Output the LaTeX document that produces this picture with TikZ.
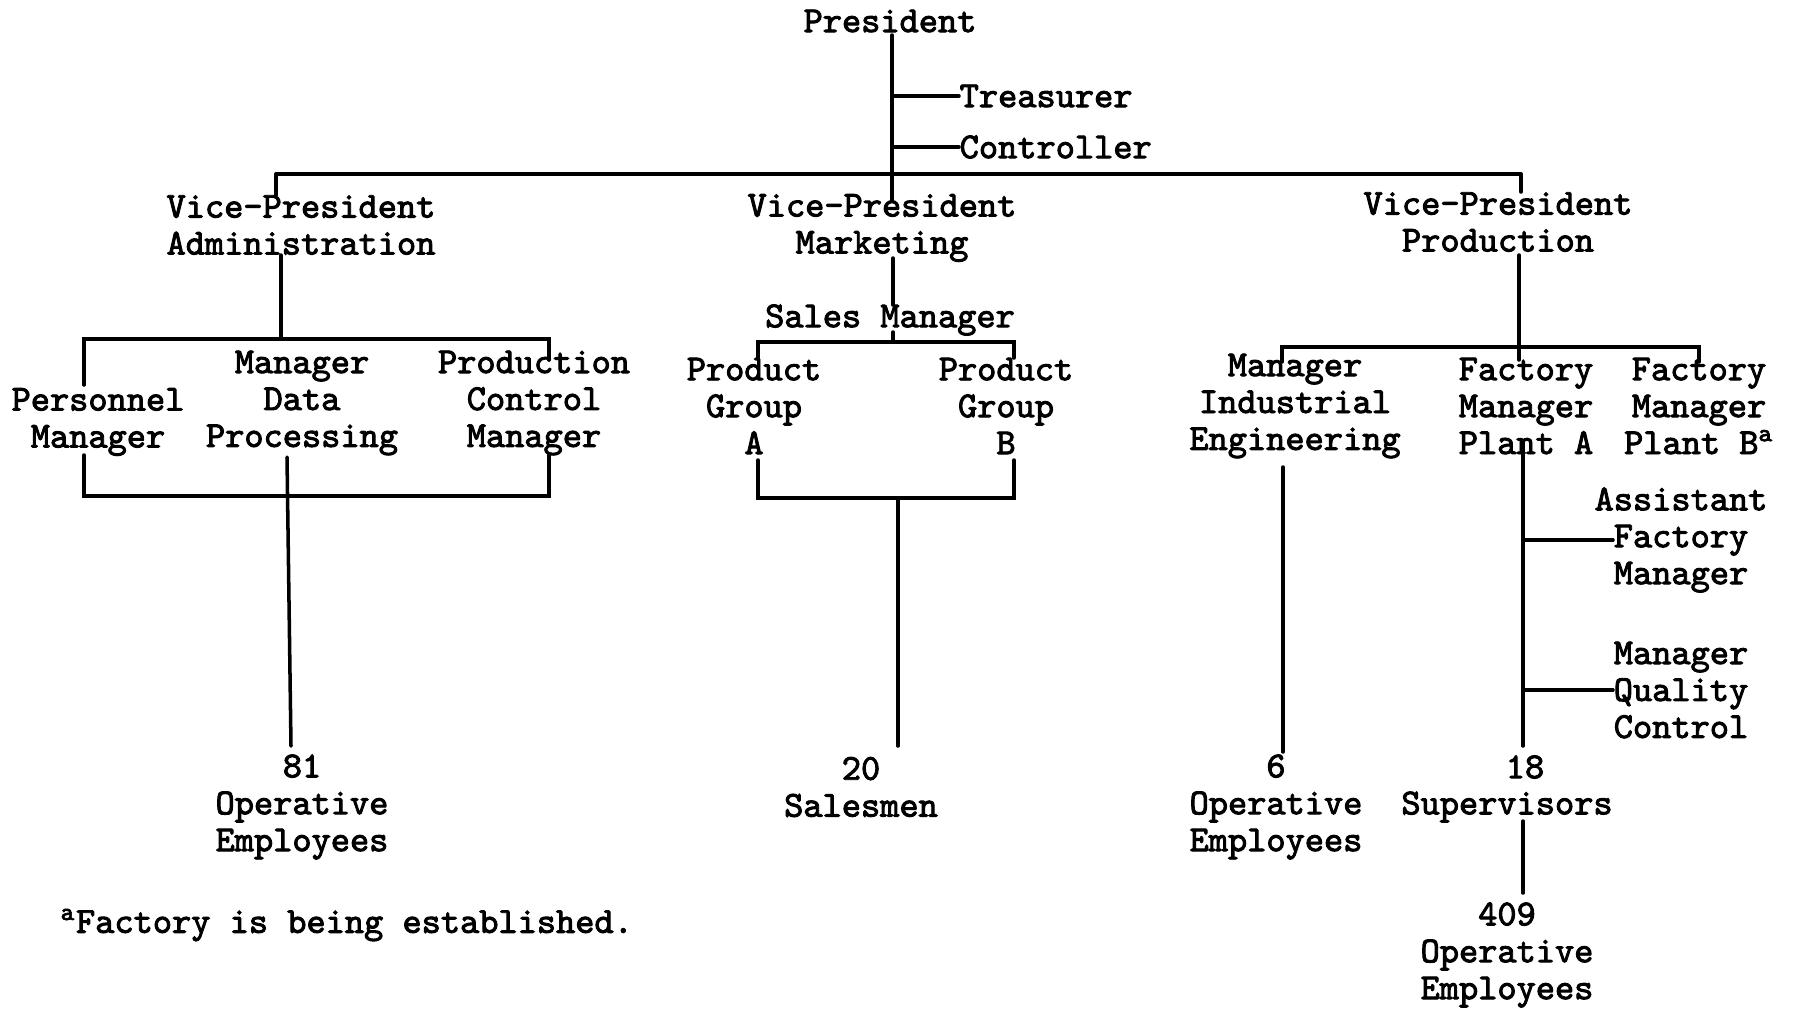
\documentclass[tikz,border=0pt]{standalone}
\usepackage{fontspec}
\newfontfamily\twfont{Latin Modern Mono}[FakeBold=2.5]
\usetikzlibrary{calc}
\begin{document}
\begin{tikzpicture}[x=0.01cm,y=-0.01cm,
  lbl/.style={font=\fontsize{10.4}{10.5}\selectfont\twfont, align=center, inner sep=0pt},
  ln/.style={line width=1pt, line cap=round, line join=miter}]
\useasboundingbox (0,0) rectangle (1800,1008);
% nodes
\node[lbl] (pres) at (890,21) {President};
\node[lbl,anchor=west] (treas) at (959,96) {Treasurer};
\node[lbl,anchor=west] (ctrl) at (959,147) {Controller};
\node[lbl] (vpa) at (301,225) {Vice-President\\Administration};
\node[lbl] (vpm) at (882,228) {Vice-President\\Marketing};
\node[lbl] (vpp) at (1498,222) {Vice-President\\Production};
\node[lbl] (pm) at (98,422) {Personnel\\Manager};
\node[lbl] (mdp) at (302,403) {Manager\\Data\\Processing};
\node[lbl] (pcm) at (534,403) {Production\\Control\\Manager};
\node[lbl] (sm) at (890,320) {Sales Manager};
\node[lbl] (pga) at (754,406) {Product\\Group\\A};
\node[lbl] (pgb) at (1006,406) {Product\\Group\\B};
\node[lbl] (mie) at (1295,406) {Manager\\Industrial\\Engineering};
\node[lbl] (fma) at (1526,406) {Factory\\Manager\\Plant A};
\node[lbl] (fmb) at (1699,406) {Factory\\Manager\\Plant B\textsuperscript{a}};
\node[lbl] (afm) at (1681,540) {Assistant\\Factory\\Manager};
\node[lbl] (mqc) at (1681,690) {Manager\\Quality\\Control};
\node[lbl] (ops81) at (302,807) {81\\Operative\\Employees};
\node[lbl] (sales20) at (861,787) {20\\Salesmen};
\node[lbl] (ops6) at (1276,807) {6\\Operative\\Employees};
\node[lbl] (n18) at (1525,767) {18};
\node[lbl] (sup) at (1507,807) {Supervisors};
\node[lbl] (ops409) at (1507,955) {409\\Operative\\Employees};
\node[lbl,anchor=west] (foot) at (60,925) {\textsuperscript{a}Factory is being established.};
% junction coordinates
\coordinate (top) at (892,174);
\coordinate (hl) at (276,174);
\coordinate (hr) at (1521,174);
% president chain
\draw[ln] (892,35) -- (top) -- (892,200);
\draw[ln] (892,96) -- (treas.west);
\draw[ln] (892,147) -- (ctrl.west);
\draw[ln] (hl) -- (hr);
\draw[ln] (hl) -- (276,195);
\draw[ln] (hr) -- (1521,192);
% administration
\coordinate (aj) at (281,339);
\draw[ln] (281,255) -- (aj);
\draw[ln] (84,385) -- (84,339) -- (549,339) -- (549,360);
\draw[ln] (84,455) -- (84,496) -- (549,496) -- (549,455);
\draw[ln] (287,457) -- (291,746);
% marketing
\draw[ln] (893,258) -- (893,305);
\draw[ln] (893,332) -- (893,342);
\draw[ln] (758,358) -- (758,342) -- (1014,342) -- (1014,358);
\draw[ln] (758,460) -- (758,498) -- (1014,498) -- (1014,460);
\draw[ln] (898,498) -- (898,746);
% production
\draw[ln] (1519,255) -- (1519,360);
\draw[ln] (1282,362) -- (1282,347) -- (1699,347) -- (1699,362);
\draw[ln] (1283,467) -- (1283,752);
\draw[ln] (1523,442) -- (1523,746);
\draw[ln] (1523,540) -- ($(afm.center)+(-68,0)$);
\draw[ln] (1523,690) -- ($(mqc.center)+(-68,0)$);
\draw[ln] (1523,821) -- (1523,893);
\end{tikzpicture}
\end{document}
